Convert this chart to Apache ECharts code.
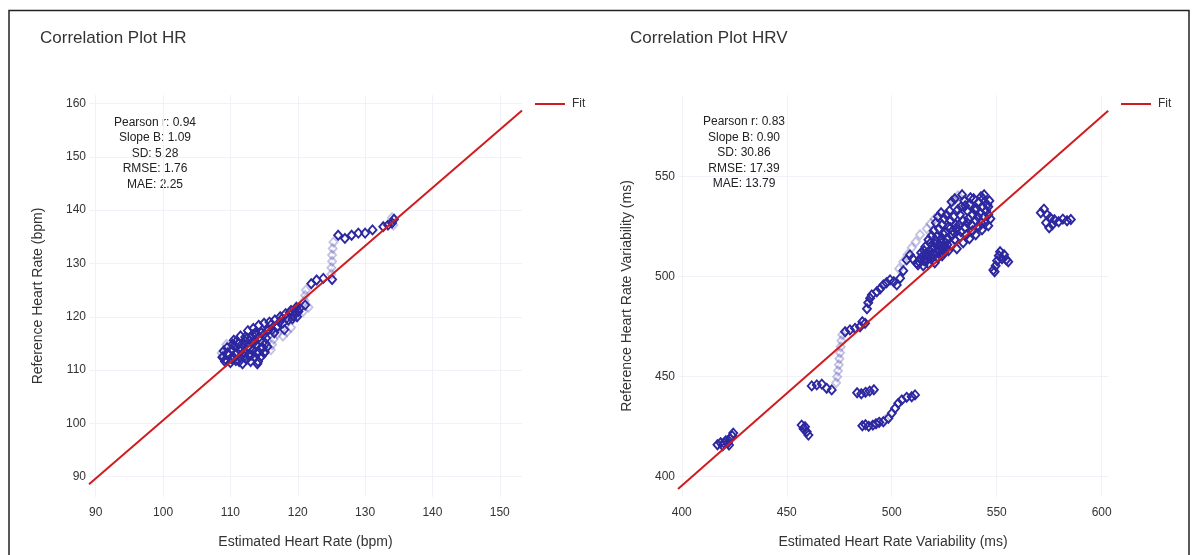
<!DOCTYPE html>
<html>
<head>
<meta charset="utf-8">
<script src="https://cdn.jsdelivr.net/npm/echarts@6/dist/echarts.min.js"></script>
<style>
  html, body { margin: 0; padding: 0; background: #fff; }
  #chart { width: 1196px; height: 555px; }
</style>
</head>
<body>
<div id="chart"></div>
<script>
// tick labels
const hrTicksX = [90, 100, 110, 120, 130, 140, 150];
const hrTicksY = [90, 100, 110, 120, 130, 140, 150, 160];
const hrvTicksX = [400, 450, 500, 550, 600];
const hrvTicksY = [400, 450, 500, 550];

// stats text
const hrStats = ['Pearson r: 0.94', 'Slope B: 1.09', 'SD: 5.28', 'RMSE: 1.76', 'MAE: 2.25'];
const hrvStats = ['Pearson r: 0.83', 'Slope B: 0.90', 'SD: 30.86', 'RMSE: 17.39', 'MAE: 13.79'];

// fit lines (ends)
const hrFitX = [89.0, 153.3];
const hrFitY = [88.6, 158.7];
const hrvFitX = [398.2, 603.1];
const hrvFitY = [393.9, 583.0];

// HR points [estimated, reference]
const hrPoints = [
  [108.8,112.4],[109.0,113.6],[109.3,112.0],[109.5,114.2],[109.8,112.9],[110.0,111.4],[110.2,113.8],[110.4,112.5],
  [110.6,114.6],[110.8,111.8],[111.0,113.2],[111.2,115.0],[111.4,112.4],[111.6,114.0],[111.8,111.2],[112.0,113.4],
  [112.2,115.4],[112.4,112.0],[112.6,114.4],[112.8,113.0],[113.0,111.6],[113.2,115.2],[113.4,113.8],[113.6,112.4],
  [113.8,114.8],[114.0,111.2],[114.2,113.4],[114.4,115.6],[114.6,112.6],[114.8,114.2],[115.0,113.2],[115.2,115.0],
  [114.1,111.6],[108.9,112.5],[115.1,113.4],[110.5,115.6],[111.5,116.4],
  [109.2,111.6],[109.6,113.2],[110.1,112.2],[110.3,114.8],[110.7,113.0],[110.9,115.4],[111.3,111.6],[111.5,113.6],
  [111.9,114.6],[112.1,112.6],[112.5,116.0],[112.9,114.0],[113.1,112.8],[113.5,115.2],[113.7,117.0],[113.9,113.2],
  [114.3,116.2],[114.5,114.0],[114.9,116.6],[115.3,116.0],[115.5,114.4],[115.7,117.6],[116.1,118.6],[116.5,117.0],
  [116.9,118.0],[117.3,119.0],[117.6,119.6],[118.4,119.8],[118.8,120.8],[119.2,119.6],[119.6,121.0],[120.3,121.6],
  [110.3,112.0],[112.7,112.8],[113.3,116.6],
  [112.2,116.2],[112.6,117.4],[113.0,116.0],[113.4,117.8],[113.8,116.6],[114.2,118.4],[114.6,117.0],[115.0,118.8],
  [115.4,117.4],[115.8,119.0],[116.2,117.6],[116.6,119.4],[117.0,118.2],[117.4,120.0],[117.8,118.8],[118.2,120.6],
  [118.6,119.4],[119.0,121.2],[119.4,120.2],[119.8,121.8],[119.9,120.0],[120.1,121.0],[121.1,122.2],[118.0,117.6],
  [122.0,126.2],[122.8,126.9],[123.8,127.2],[125.1,127.0],
  [126.0,135.3],[127.0,134.7],[128.0,135.3],[129.0,135.7],[130.0,135.7],[131.1,136.3],
  [132.7,136.9],[133.4,137.2],[134.0,137.6],[134.3,138.3]
];
const hrFaint = [
  [125.0,128.0],[125.0,129.2],[125.1,130.4],[125.1,131.6],[125.2,132.8],[125.3,134.0],
  [121.0,123.0],[121.1,124.0],[121.2,125.0],[116.0,113.8],[116.2,114.8],[116.4,115.8],
  [117.8,116.4],[118.4,117.2],[119.0,118.0],[120.8,121.0],[121.6,121.8],[134.2,137.2],[134.0,138.6],
  [109.4,114.8],[115.9,116.8],[117.0,116.8],[108.7,113.2]
];

// HRV points [estimated, reference]
const hrvPoints = [
  [417,416],[418.5,417],[419.5,415.5],[420,416.8],[421,418],[422,417],[422.5,415.8],[423,419],[424,420.5],[424.5,421.8],
  [457.1,425.8],[458.7,425],[459.5,422.5],[460.3,420.8],[458,424],
  [461.9,445.4],[464.3,445.9],[466.7,446.3],[469,444.2],[471.4,443.4],
  [477.8,472.5],[480.1,473.4],[482.5,474.2],[484.9,475],[487.3,476.7],[486,477.5],
  [483.5,442],[485.5,441.5],[487.5,442.2],[489.5,442.8],[491.5,443.5],
  [486,425.5],[487.5,426],[489,425.2],[491,425.8],[492.5,426.5],
  [494,427.2],[496,427.5],[498.4,429.2],[500,431.7],[501.6,434.2],[503.1,436.7],[504.8,438.4],[507.1,439.7],[509.5,440],[511.1,440.9],
  [488.2,484],[488.8,487],[489.7,489.2],[490.5,490.9],[492.9,492.5],[494.5,494],[496,495.9],[497.5,497],[499.2,498.4],
  [501,497.5],[502.4,495.9],[504,499.2],[505.5,503],[507.1,508.4],[508.7,510.9],[510,509],[511.9,506.7],
  [512.5,506],[513.5,509],[514,512],[515,505.5],[515.5,508],[516,515],[517,510],[517.5,506.5],[518,513],[518.5,517],
  [519,509],[519.5,511.5],[520,515],[520.5,507],[521,518],[521.5,512],[522,509.5],[522.5,516],[523,513],[523.5,519],
  [524,510.5],[524.5,515],[525,512],[525.5,517],[526,514],
  [513,507.5],[514.5,510],[516.5,511.5],[518.5,510.5],[519.5,514],[522,513.5],[523,511],[524,517],[525,514.5],
  [526.5,516],[515.5,513],[517,508.5],[520.5,516.5],[521.5,520],[519,520.5],[517.5,518.5],
  [520,523],[521,527],[522,530],[522.5,524],[523.5,532],[524,526],[525,529],[525.5,522],[526,531],[527,525],
  [527.5,533],[528,528],[529,523],[529.5,530],[530.5,526],[528.5,537.5],[530,539],
  [527,513],[528.5,516],[530,518.5],[531,514],[532.5,520],[534,517],[535.5,521],[537,519],[538.5,523],[540,521],
  [541.5,525],[543,523.5],[544.5,527],[546,525.5],[529,521],[531,524],[533,522.5],[526,519],[524.5,521.5],[528,524.5],
  [536,527],[539.5,533.5],[542.5,540],[537.5,539.5],[535,535.5],[533.5,541],[531.5,533.5],[544,541],[546,535],[547,529],
  [532,526],[532.5,531],[533,535],[534,528],[534.5,538],[535,524.5],[536,533],[536.5,529],[537,536],[538,526],
  [538.5,531],[539,539],[540,528],[540.5,534],[541,530],[541.5,537],[542,532],[542.5,527],[543,535],[543.5,539],
  [544,530],[545,533],[545.5,536],[546,531],[546.5,538],
  [548.4,503.4],[549.5,505.5],[550.2,508],[551,510.5],[551.6,512.5],[552.5,509],[553.5,511],[554.5,508.5],[555.5,507.5],[549,502.5],
  [571,532],[572.5,533.8],[574,531],[575.5,529.5],[573.5,527],[575,524.5],[576.5,526],[577.5,528.5],[579.5,527.5],
  [581.5,528.8],[583.5,528],[585.3,528.6]
];
const hrvFaint = [
  [473.5,447],[474,450],[474.4,453],[474.8,456],[475.1,459],[475.4,462],[475.7,465],[476,468],[476.4,471],
  [503.5,504],[505.5,507.5],[507.5,511],[509.5,514.5],[511.5,517.5],[513.5,521],[516.7,524],[518.5,526.5],[520.5,529],
  [529.5,538],[531.5,540.5],[494,427],[497,428.5]
];

const FONT = '"Liberation Sans", Arial, sans-serif';
const BLUE = '#2d27a0';
const RED = '#d01c1f';
const GRID = '#f0f2f7';

function xAxisCfg(idx, name, min, max, ticks) {
  return {
    type: 'value', gridIndex: idx, name: name, nameLocation: 'middle', nameGap: 38,
    nameTextStyle: { fontSize: 14, color: '#333', fontFamily: FONT },
    min: min, max: max,
    axisLine: { show: false }, axisTick: { show: false, customValues: ticks },
    axisLabel: { customValues: ticks, fontSize: 12, color: '#333', margin: 10, fontFamily: FONT },
    splitLine: { show: true, lineStyle: { color: GRID, width: 1 } }
  };
}
function yAxisCfg(idx, name, min, max, ticks) {
  return {
    type: 'value', gridIndex: idx, name: name, nameLocation: 'middle', nameGap: 44,
    nameTextStyle: { fontSize: 14, color: '#333', fontFamily: FONT },
    min: min, max: max,
    axisLine: { show: false }, axisTick: { show: false, customValues: ticks },
    axisLabel: { customValues: ticks, fontSize: 12, color: '#333', margin: 3, fontFamily: FONT },
    splitLine: { show: true, lineStyle: { color: GRID, width: 1 } }
  };
}
function fitData(xs, ys) { return xs.map((x, i) => [x, ys[i]]); }
function scatter(idx, data, opacity) {
  return {
    type: 'scatter', xAxisIndex: idx, yAxisIndex: idx, data: data,
    symbol: 'diamond', symbolSize: [8, 9], silent: true,
    itemStyle: { color: 'rgba(0,0,0,0)', borderColor: BLUE, borderWidth: 1.9, opacity: opacity }
  };
}
function legendCfg(left) {
  return {
    data: ['Fit'], left: left, top: 93, icon: 'rect', itemWidth: 30, itemHeight: 2, itemGap: 6,
    textStyle: { fontSize: 12, color: '#333', fontFamily: FONT, padding: [0, 0, 0, 2] }
  };
}

const chart = echarts.init(document.getElementById('chart'), null, { renderer: 'canvas' });
chart.setOption({
  animation: false,
  backgroundColor: '#fff',
  title: [
    { text: 'Correlation Plot HR', left: 35, top: 25, textStyle: { fontSize: 17, fontWeight: 'normal', color: '#333', fontFamily: FONT } },
    { text: 'Correlation Plot HRV', left: 625, top: 25, textStyle: { fontSize: 17, fontWeight: 'normal', color: '#333', fontFamily: FONT } }
  ],
  legend: [legendCfg(530), legendCfg(1116)],
  grid: [
    { left: 89, top: 95, width: 433, height: 402 },
    { left: 678, top: 95, width: 430, height: 402 }
  ],
  xAxis: [
    xAxisCfg(0, 'Estimated Heart Rate (bpm)', 89.0, 153.3, hrTicksX),
    xAxisCfg(1, 'Estimated Heart Rate Variability (ms)', 398.2, 603.0, hrvTicksX)
  ],
  yAxis: [
    yAxisCfg(0, 'Reference Heart Rate (bpm)', 86.2, 161.6, hrTicksY),
    yAxisCfg(1, 'Reference Heart Rate Variability (ms)', 389.85, 590.85, hrvTicksY)
  ],
  series: [
    scatter(0, hrFaint, 0.28),
    scatter(0, hrPoints, 1),
    { name: 'Fit', type: 'line', xAxisIndex: 0, yAxisIndex: 0, data: fitData(hrFitX, hrFitY),
      symbol: 'none', lineStyle: { color: RED, width: 2 }, itemStyle: { color: RED } },
    scatter(1, hrvFaint, 0.28),
    scatter(1, hrvPoints, 1),
    { name: 'Fit', type: 'line', xAxisIndex: 1, yAxisIndex: 1, data: fitData(hrvFitX, hrvFitY),
      symbol: 'none', lineStyle: { color: RED, width: 2 }, itemStyle: { color: RED } }
  ],
  graphic: [
    { type: 'rect', shape: { x: 9, y: 10.5, width: 1180, height: 560 }, style: { fill: 'none', stroke: '#222', lineWidth: 1.5 }, silent: true },
    { type: 'text', x: 155, y: 114.5, silent: true,
      style: { text: hrStats.join('\n'), align: 'center', verticalAlign: 'top', fontSize: 12, lineHeight: 15.5, fill: '#222', fontFamily: FONT } },
    { type: 'text', x: 744, y: 114, silent: true,
      style: { text: hrvStats.join('\n'), align: 'center', verticalAlign: 'top', fontSize: 12, lineHeight: 15.5, fill: '#222', fontFamily: FONT } }
  ]
});
</script>
</body>
</html>
